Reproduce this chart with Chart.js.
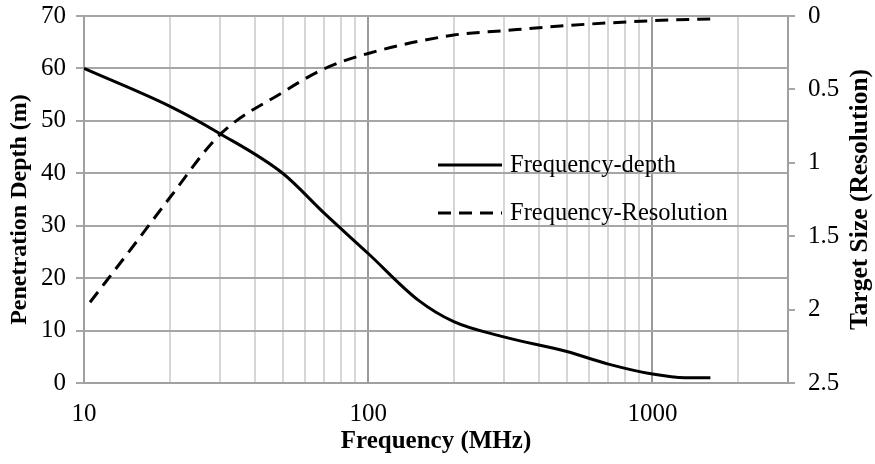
<!DOCTYPE html>
<html>
<head>
<meta charset="utf-8">
<script src="https://cdn.jsdelivr.net/npm/chart.js@4/dist/chart.umd.min.js"></script>
<style>
html,body{margin:0;padding:0;background:#fff;}
#wrap{width:875px;height:464px;}
</style>
</head>
<body>
<div id="wrap"><canvas id="c" width="875" height="464"></canvas></div>
<script>
// ---- data ----
const depthFreq = [10, 20, 30, 50, 70, 100, 150, 200, 300, 500, 700, 1000, 1300, 1600];
const depthValues = [60, 52.8, 47.6, 40.0, 32.4, 24.7, 15.8, 11.7, 8.8, 6.0, 3.6, 1.7, 1.0, 1.0];
const resFreq = [10.5, 15, 20, 30, 50, 70, 100, 200, 300, 500, 1000, 1600];
const resValues = [1.95, 1.56, 1.24, 0.81, 0.52, 0.36, 0.255, 0.13, 0.10, 0.065, 0.032, 0.02];
const xTicks = [10,20,30,40,50,60,70,80,90,100,200,300,400,500,600,700,800,900,1000,2000,3000];
const xLabelled = [10, 100, 1000];
const seriesNames = ['Frequency-depth', 'Frequency-Resolution'];
const titles = {x: 'Frequency (MHz)', yLeft: 'Penetration Depth (m)', yRight: 'Target Size (Resolution)'};

const FONT = 'Liberation Serif, Times New Roman, serif';

function drawVerticalTitle(ctx, text, cx, cy, size) {
  ctx.save();
  ctx.translate(cx, cy);
  ctx.rotate(-Math.PI / 2);
  ctx.font = 'bold ' + size + 'px ' + FONT;
  ctx.textAlign = 'center';
  ctx.textBaseline = 'middle';
  ctx.fillStyle = '#000';
  ctx.fillText(text, 0, 0);
  ctx.restore();
}

const legendPlugin = {
  id: 'customLegend',
  afterDraw(chart) {
    const ctx = chart.ctx;
    const ca = chart.chartArea;
    ctx.save();
    const items = chart.data.datasets;
    const x0 = 438, x1 = 502, tx = 510;
    const ys = [165, 213];
    items.forEach((ds, i) => {
      ctx.beginPath();
      ctx.strokeStyle = ds.borderColor;
      ctx.lineWidth = ds.borderWidth;
      ctx.setLineDash(ds.borderDash || []);
      ctx.moveTo(x0, ys[i]);
      ctx.lineTo(x1, ys[i]);
      ctx.stroke();
      ctx.setLineDash([]);
      ctx.fillStyle = '#000';
      ctx.font = '24.5px ' + FONT;
      ctx.textBaseline = 'middle';
      ctx.textAlign = 'left';
      ctx.fillText(ds.label, tx, ys[i] + 1);
    });
    ctx.restore();
    // axis titles on the sides, both reading bottom to top
    drawVerticalTitle(ctx, titles.yLeft, 19.5, (ca.top + ca.bottom) / 2 + 10, 24);
    drawVerticalTitle(ctx, titles.yRight, 860, (ca.top + ca.bottom) / 2, 25.5);
  }
};

function fitY(w) {
  return function (scale) {
    scale.width = w;
    scale.paddingTop = 0;
    scale.paddingBottom = 0;
  };
}

new Chart(document.getElementById('c'), {
  type: 'line',
  data: {
    datasets: [
      {
        label: seriesNames[0],
        data: depthFreq.map((f, i) => ({x: f, y: depthValues[i]})),
        yAxisID: 'y',
        borderColor: '#000',
        borderWidth: 3,
        pointRadius: 0,
        fill: false,
        cubicInterpolationMode: 'monotone'
      },
      {
        label: seriesNames[1],
        data: resFreq.map((f, i) => ({x: f, y: resValues[i]})),
        yAxisID: 'y2',
        borderColor: '#000',
        borderWidth: 3,
        borderDash: [13, 8],
        pointRadius: 0,
        fill: false,
        cubicInterpolationMode: 'monotone'
      }
    ]
  },
  options: {
    responsive: false,
    devicePixelRatio: 1,
    animation: false,
    layout: {padding: {top: 16, left: 0, right: 0, bottom: 0}},
    plugins: {legend: {display: false}, tooltip: {enabled: false}},
    scales: {
      x: {
        type: 'logarithmic',
        min: 10,
        max: 3000,
        afterBuildTicks(scale) { scale.ticks = xTicks.map(v => ({value: v})); },
        afterFit(scale) { scale.height = 81; scale.paddingLeft = 0; scale.paddingRight = 0; },
        ticks: {
          autoSkip: false,
          maxRotation: 0,
          padding: 16,
          color: '#000',
          font: {family: FONT, size: 25},
          callback(v) { return xLabelled.includes(v) ? String(v) : ''; }
        },
        grid: {
          drawTicks: false,
          lineWidth: 2,
          color(ctx) {
            const v = ctx.tick && ctx.tick.value;
            if (v === 3000) return 'rgba(0,0,0,0)';
            return xLabelled.includes(v) ? '#9a9a9a' : '#d6d6d6';
          }
        },
        border: {color: '#a0a0a0', width: 2},
        title: {display: true, text: titles.x, color: '#000', font: {family: FONT, size: 25, weight: 'bold'}, padding: {top: 0, bottom: 7}}
      },
      y: {
        position: 'left',
        min: 0,
        max: 70,
        ticks: {stepSize: 10, padding: 10, color: '#000', font: {family: FONT, size: 25}},
        afterFit: fitY(84),
        grid: {color: '#a6a6a6', lineWidth: 2, tickLength: 8, tickColor: '#a6a6a6'},
        border: {color: '#a0a0a0', width: 2}
      },
      y2: {
        position: 'right',
        reverse: true,
        min: 0,
        max: 2.5,
        ticks: {
          stepSize: 0.5, padding: 13, color: '#000', font: {family: FONT, size: 25},
          callback(v) { return String(Math.round(v * 10) / 10); }
        },
        afterFit: fitY(87),
        grid: {drawOnChartArea: false, lineWidth: 2, tickLength: 7, color: '#a6a6a6'},
        border: {color: '#a0a0a0', width: 2}
      }
    }
  },
  plugins: [legendPlugin]
});
</script>
</body>
</html>
